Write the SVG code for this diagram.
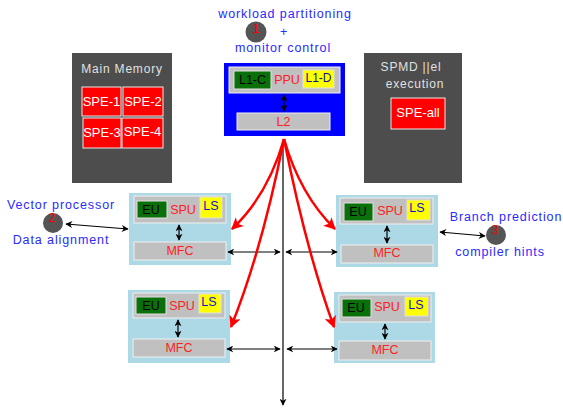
<svg xmlns="http://www.w3.org/2000/svg" width="563" height="408" viewBox="0 0 563 408">
  <defs>
    <marker id="ah" viewBox="0 0 10 10" refX="9" refY="5" markerWidth="7" markerHeight="7" orient="auto-start-reverse" markerUnits="userSpaceOnUse">
      <path d="M0,0 L10,5 L0,10 L3,5 Z" fill="#000"/>
    </marker>
    <marker id="rh" viewBox="0 0 10 10" refX="9" refY="5" markerWidth="12" markerHeight="12" orient="auto" markerUnits="userSpaceOnUse">
      <path d="M0,0 L10,5 L0,10 L2.5,5 Z" fill="#ff0000"/>
    </marker>
  </defs>
  <style>
    text { font-family: "Liberation Sans", Arial, sans-serif; font-size: 12px; }
    .note { fill: #2a2aff; font-size: 12.5px; letter-spacing: 0.9px; }
    .panel { fill: #4d4d4d; }
    .ptxt { fill: #e0e0e0; letter-spacing: 0.8px; text-anchor: middle; }
    .spe { fill: #ff0000; stroke: #e8e8e8; stroke-width: 1; }
    .spet { fill: #ffffff; text-anchor: middle; font-size: 13px; }
    .cell { fill: #add8e6; }
    .gray { fill: #c0c0c0; stroke: #f0f0f0; stroke-width: 1; }
    .green { fill: #0a700a; stroke: #e0e0e0; stroke-width: 1; }
    .yellow { fill: #ffff00; stroke: #e0e0e0; stroke-width: 1; }
    .red { fill: #ff2020; text-anchor: middle; font-size: 12.5px; }
    .blk { fill: #000; text-anchor: middle; font-size: 12.5px; }
    .blu { fill: #1010d0; text-anchor: middle; font-size: 12.5px; }
    .dot { fill: #555555; }
    .num { fill: #ff0000; text-anchor: middle; }
    .wire { stroke: #000; stroke-width: 1.2; fill: none; }
    .flow { stroke: #ff0000; stroke-width: 2.5; fill: none; }
  </style>

  <!-- annotations -->
  <g id="note-ppu">
    <text class="note" x="285" y="18" text-anchor="middle">workload partitioning</text>
    <circle class="dot" cx="256" cy="32" r="10.5"/>
    <text class="num" x="256" y="33">1</text>
    <text class="note" x="284" y="36" text-anchor="middle">+</text>
    <text class="note" x="283" y="52" text-anchor="middle">monitor control</text>
  </g>
  <g id="note-vector">
    <text class="note" x="61" y="209" text-anchor="middle">Vector processor</text>
    <circle class="dot" cx="53" cy="223" r="10"/>
    <text class="num" x="52" y="222">2</text>
    <text class="note" x="61" y="244" text-anchor="middle">Data alignment</text>
  </g>
  <g id="note-branch">
    <text class="note" x="506" y="221" text-anchor="middle">Branch prediction</text>
    <circle class="dot" cx="496" cy="235" r="10"/>
    <text class="num" x="495" y="234">3</text>
    <text class="note" x="500" y="256" text-anchor="middle">compiler hints</text>
  </g>

  <!-- main memory panel -->
  <g id="main-memory">
    <rect class="panel" x="72" y="53" width="100" height="130"/>
    <text class="ptxt" x="122" y="73">Main Memory</text>
    <rect class="spe" x="82" y="87" width="39" height="29"/>
    <text class="spet" x="101.5" y="106">SPE-1</text>
    <rect class="spe" x="123" y="87" width="40" height="29"/>
    <text class="spet" x="143" y="106">SPE-2</text>
    <rect class="spe" x="83" y="118" width="38" height="30"/>
    <text class="spet" x="102" y="137">SPE-3</text>
    <rect class="spe" x="122" y="118" width="41" height="30"/>
    <text class="spet" x="142.5" y="136">SPE-4</text>
  </g>

  <!-- SPMD panel -->
  <g id="spmd">
    <rect class="panel" x="364" y="53" width="98" height="130"/>
    <text class="ptxt" x="411" y="71">SPMD ||el</text>
    <text class="ptxt" x="415" y="88">execution</text>
    <rect class="spe" x="391" y="98" width="54" height="31"/>
    <text class="spet" x="418" y="117">SPE-all</text>
  </g>

  <!-- PPU -->
  <g id="ppu">
    <rect x="224" y="63" width="121" height="73" fill="#0000ff"/>
    <rect class="gray" x="229" y="67" width="111" height="26"/>
    <rect class="green" x="234" y="71" width="37" height="18"/>
    <text class="blk" x="252.5" y="84">L1-C</text>
    <text class="red" x="287" y="84">PPU</text>
    <rect class="yellow" x="303" y="70" width="31" height="18"/>
    <text fill="#1010a0" x="318.5" y="82" text-anchor="middle" font-size="12.5">L1-D</text>
    <rect class="gray" x="237" y="113" width="93" height="17"/>
    <text class="red" x="283.5" y="126">L2</text>
    <line class="wire" x1="284" y1="95" x2="284" y2="111" marker-start="url(#ah)" marker-end="url(#ah)"/>
  </g>

  <!-- SPU cells -->
  <g id="spu-tl">
    <rect class="cell" x="129" y="193" width="102" height="72"/>
    <rect class="gray" x="134" y="196" width="92" height="27"/>
    <rect class="green" x="137" y="201" width="30" height="17"/>
    <text class="blk" x="151" y="214">EU</text>
    <text class="red" x="183" y="214">SPU</text>
    <rect class="yellow" x="200" y="197" width="22" height="21"/>
    <text class="blu" x="211" y="210">LS</text>
    <rect class="gray" x="134" y="242" width="92" height="18"/>
    <text class="red" x="180" y="255">MFC</text>
    <line class="wire" x1="179" y1="225" x2="179" y2="240" marker-start="url(#ah)" marker-end="url(#ah)"/>
  </g>
  <g id="spu-tr">
    <rect class="cell" x="336" y="195" width="102" height="72"/>
    <rect class="gray" x="340" y="198" width="93" height="26"/>
    <rect class="green" x="344" y="203" width="29" height="18"/>
    <text class="blk" x="358" y="216">EU</text>
    <text class="red" x="390" y="215">SPU</text>
    <rect class="yellow" x="407" y="200" width="23" height="20"/>
    <text class="blu" x="417" y="212">LS</text>
    <rect class="gray" x="341" y="245" width="92" height="18"/>
    <text class="red" x="387" y="257">MFC</text>
    <line class="wire" x1="387" y1="226" x2="387" y2="243" marker-start="url(#ah)" marker-end="url(#ah)"/>
  </g>
  <g id="spu-bl">
    <rect class="cell" x="128" y="290" width="102" height="73"/>
    <rect class="gray" x="133" y="293" width="92" height="25"/>
    <rect class="green" x="136" y="297" width="30" height="17"/>
    <text class="blk" x="151" y="310">EU</text>
    <text class="red" x="182" y="310">SPU</text>
    <rect class="yellow" x="199" y="294" width="22" height="19"/>
    <text class="blu" x="209" y="306">LS</text>
    <rect class="gray" x="133" y="339" width="92" height="18"/>
    <text class="red" x="179" y="352">MFC</text>
    <line class="wire" x1="178" y1="320" x2="178" y2="337" marker-start="url(#ah)" marker-end="url(#ah)"/>
  </g>
  <g id="spu-br">
    <rect class="cell" x="334" y="292" width="101" height="71"/>
    <rect class="gray" x="339" y="295" width="92" height="27"/>
    <rect class="green" x="342" y="299" width="29" height="18"/>
    <text class="blk" x="356" y="312">EU</text>
    <text class="red" x="387" y="311">SPU</text>
    <rect class="yellow" x="405" y="297" width="23" height="19"/>
    <text class="blu" x="416" y="309">LS</text>
    <rect class="gray" x="339" y="341" width="92" height="19"/>
    <text class="red" x="385" y="354">MFC</text>
    <line class="wire" x1="385" y1="324" x2="385" y2="339" marker-start="url(#ah)" marker-end="url(#ah)"/>
  </g>

  <!-- connectors -->
  <g id="connectors">
    <line class="wire" x1="283" y1="140" x2="283" y2="405" marker-end="url(#ah)"/>
    <line class="wire" x1="228" y1="252" x2="280" y2="252" marker-start="url(#ah)" marker-end="url(#ah)"/>
    <line class="wire" x1="286" y1="252" x2="337" y2="252" marker-start="url(#ah)" marker-end="url(#ah)"/>
    <line class="wire" x1="227" y1="349" x2="280" y2="349" marker-start="url(#ah)" marker-end="url(#ah)"/>
    <line class="wire" x1="287" y1="349" x2="337" y2="349" marker-start="url(#ah)" marker-end="url(#ah)"/>
    <line class="wire" x1="66" y1="224" x2="128" y2="229" marker-start="url(#ah)" marker-end="url(#ah)"/>
    <line class="wire" x1="440" y1="232" x2="485" y2="236" marker-start="url(#ah)" marker-end="url(#ah)"/>
    <path class="flow" d="M284,139 Q268,195 232,229" marker-end="url(#rh)"/>
    <path class="flow" d="M284,139 Q300,195 335,229" marker-end="url(#rh)"/>
    <path class="flow" d="M284,139 Q262,250 231,327" marker-end="url(#rh)"/>
    <path class="flow" d="M284,139 Q306,250 334,327" marker-end="url(#rh)"/>
  </g>
</svg>
